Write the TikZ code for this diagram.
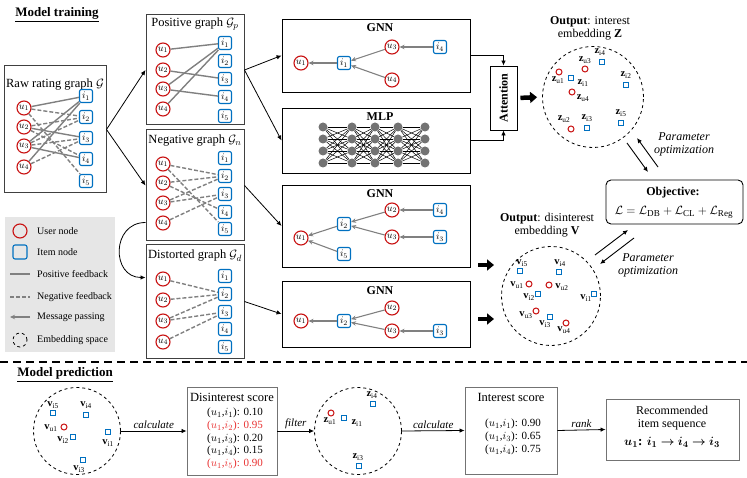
\documentclass[tikz,border=0pt]{standalone}
\usepackage{fontspec}
\setmainfont{Liberation Serif}
\usepackage{amsmath}
\usepackage{bm}
\usetikzlibrary{arrows.meta,positioning,shapes}

\definecolor{ured}{RGB}{200,16,16}
\definecolor{iblue}{RGB}{0,112,192}
\definecolor{egray}{RGB}{128,128,128}
\definecolor{sred}{RGB}{232,48,48}
\definecolor{legbg}{RGB}{230,230,230}

\tikzset{
  user/.style={circle, draw=ured, line width=1.1pt, minimum size=14pt, inner sep=0pt, font=\fontsize{10}{10}\selectfont},
  item/.style={rectangle, rounded corners=2pt, draw=iblue, line width=1.1pt, minimum size=13pt, inner sep=0pt, font=\fontsize{10}{10}\selectfont},
  posedge/.style={draw=egray, line width=1.4pt},
  negedge/.style={draw=egray, line width=1.4pt, dash pattern=on 4pt off 2pt},
  msg/.style={draw=egray, line width=1.1pt, -{Stealth[length=5pt,width=4.5pt]}},
  graphbox/.style={draw=black!75, line width=1pt, inner sep=0pt},
  gnnbox/.style={draw=black, line width=0.9pt, minimum width=188pt, inner sep=0pt},
  gtitle/.style={font=\fontsize{12.5}{12.5}\selectfont, inner sep=0pt},
  btitle/.style={font=\fontsize{12}{12}\selectfont\bfseries, inner sep=0pt},
  neuron/.style={circle, fill=black!55, minimum size=9pt, inner sep=0pt},
  embed/.style={circle, draw=black, dashed, line width=0.8pt, inner sep=0pt},
  zu/.style={circle, draw=ured, line width=1pt, minimum size=6pt, inner sep=0pt},
  zi/.style={rectangle, draw=iblue, line width=1pt, minimum size=5.5pt, inner sep=0pt},
  elab/.style={font=\fontsize{10.5}{10.5}\selectfont, inner sep=0pt},
  legtext/.style={font=\fontsize{10}{10}\selectfont, anchor=west, inner sep=0pt},
  flow/.style={->, line width=0.8pt},
  bigarrow/.style={line width=4.5pt, -{Triangle[length=7pt,width=11pt]}},
  optim/.style={->, line width=0.9pt},
  itlab/.style={font=\fontsize{11}{11}\selectfont\itshape, inner sep=2pt},
  scorebox/.style={draw=black!55, line width=0.9pt, inner sep=0pt},
  score/.style={font=\fontsize{11}{11}\selectfont, anchor=west, inner sep=0pt},
}

\begin{document}
\begin{tikzpicture}[x=1pt,y=-1pt,>={Latex[length=5pt,width=4.5pt]}]
\useasboundingbox (0,0) rectangle (747,478);

% titles
\node[font=\fontsize{13}{13}\selectfont\bfseries, inner sep=0pt] (train) at (57,15) {\underline{Model training}};
\node[font=\fontsize{13}{13}\selectfont\bfseries, inner sep=0pt] (pred) at (65,375) {\underline{Model prediction}};

% raw rating graph
\node[graphbox, minimum width=102pt, minimum height=127pt] (raw) at (55,129.5) {};
\node[gtitle] (rawt) at (55,85) {Raw rating graph $\mathcal{G}$};
\foreach \k/\y in {1/108,2/127,3/146,4/167}
  \node[user] (ru\k) at (24,\y) {$u_{\k}$};
\foreach \k/\y in {1/96,2/117,3/138,4/159,5/181}
  \node[item] (ri\k) at (86,\y) {$i_{\k}$};
\foreach \a/\b in {1/1,2/3,3/1,3/4,4/1}
  \draw[posedge] (ru\a) -- (ri\b);
\foreach \a/\b in {1/2,1/5,2/2,2/4,3/2,3/3,4/3}
  \draw[negedge] (ru\a) -- (ri\b);

% positive graph
\node[graphbox, minimum width=98pt, minimum height=110pt] (posg) at (195,70) {};
\node[gtitle] (posgt) at (195,24) {Positive graph $\mathcal{G}_p$};
\foreach \k/\y in {1/50,2/70,3/89,4/109}
  \node[user] (pu\k) at (163,\y) {$u_{\k}$};
\foreach \k/\y in {1/43,2/61,3/79,4/97,5/116}
  \node[item] (pi\k) at (225,\y) {$i_{\k}$};
\foreach \a/\b in {1/1,2/3,3/1,3/4,4/1}
  \draw[posedge] (pu\a) -- (pi\b);

% negative graph
\node[graphbox, minimum width=98pt, minimum height=111pt] (negg) at (195,185.5) {};
\node[gtitle] (neggt) at (195,141) {Negative graph $\mathcal{G}_n$};
\foreach \k/\y in {1/164,2/183,3/203,4/223}
  \node[user] (nu\k) at (163,\y) {$u_{\k}$};
\foreach \k/\y in {1/158,2/176,3/194,4/212,5/229}
  \node[item] (ni\k) at (225,\y) {$i_{\k}$};
\foreach \a/\b in {1/2,1/5,2/2,2/4,3/2,3/3,4/3}
  \draw[negedge] (nu\a) -- (ni\b);

% distorted graph
\node[graphbox, minimum width=98pt, minimum height=113pt] (dstg) at (195,301.5) {};
\node[gtitle] (dstgt) at (195,256) {Distorted graph $\mathcal{G}_d$};
\foreach \k/\y in {1/279,2/300,3/321,4/342}
  \node[user] (du\k) at (163,\y) {$u_{\k}$};
\foreach \k/\y in {1/276,2/294,3/312,4/329,5/347}
  \node[item] (di\k) at (225,\y) {$i_{\k}$};
\foreach \a/\b in {1/2,2/2,3/2,3/3,4/3}
  \draw[negedge] (du\a) -- (di\b);

\draw[flow] (raw.east) -- (posg.west);
\draw[flow] (raw.east) -- (negg.west);
\draw[flow] ([yshift=19pt]negg.south west) to[out=180,in=180,looseness=1.6] ([yshift=-33pt]dstg.north west);

% legend
\node[fill=legbg, minimum width=110pt, minimum height=135pt, inner sep=0pt] (legend) at (60,284.5) {};
\node[user] (lu) at (20,231) {};
\node[item, minimum size=14pt] (li) at (20,252) {};
\coordinate (lpa) at (10,274); \coordinate (lpb) at (30,274);
\coordinate (lna) at (10,297); \coordinate (lnb) at (30,297);
\coordinate (lma) at (30,317); \coordinate (lmb) at (10,317);
\draw[posedge] (lpa) -- (lpb);
\draw[negedge] (lna) -- (lnb);
\draw[msg] (lma) -- (lmb);
\node[embed, minimum size=14pt] (le) at (20,340) {};
\node[legtext] (lut) at (37,231) {User node};
\node[legtext] (lit) at (37,252) {Item node};
\node[legtext] (lpt) at (37,274) {Positive feedback};
\node[legtext] (lnt) at (37,297) {Negative feedback};
\node[legtext] (lmt) at (37,317) {Message passing};
\node[legtext] (let) at (37,340) {Embedding space};

% GNN on positive graph
\node[gnnbox, minimum height=73pt] (gnnA) at (376,55.5) {};
\node[btitle] (gnnAt) at (380,28) {GNN};
\node[user] (gAu1) at (301,63) {$u_1$};
\node[item] (gAi1) at (344,63) {$i_1$};
\node[user] (gAu3) at (392,47) {$u_3$};
\node[user] (gAu4) at (392,80) {$u_4$};
\node[item] (gAi4) at (440,47) {$i_4$};
\draw[msg] (gAi4) -- (gAu3);
\draw[msg] (gAu3) -- (gAi1);
\draw[msg] (gAu4) -- (gAi1);
\draw[msg] (gAi1) -- (gAu1);

% MLP
\node[gnnbox, minimum height=65pt] (mlp) at (376,140.5) {};
\node[btitle] (mlpt) at (380,117) {MLP};
\foreach \l/\x in {1/323,2/352,3/375,4/398,5/425}
  \foreach \r/\y in {1/127,2/139,3/151,4/163}
    \node[neuron] (n\l\r) at (\x,\y) {};
\foreach \l [evaluate=\l as \m using int(\l+1)] in {1,...,4}
  \foreach \r in {1,...,4}
    \foreach \s in {1,...,4}
      \draw[line width=0.5pt] (n\l\r) -- (n\m\s);

\draw[flow] (posg.east) -- (gnnA.west);
\draw[flow] (posg.east) -- (mlp.west);

% attention
\node[draw=black, line width=0.9pt, minimum width=27pt, minimum height=64pt, inner sep=0pt] (att) at (503.5,98) {};
\node[btitle, rotate=90] (attt) at (att) {Attention};
\draw[flow] (gnnA.east) -| (att.north);
\draw[flow] (mlp.east) -| (att.south);

% GNN on negative graph
\node[gnnbox, minimum height=82pt] (gnnB) at (376,226) {};
\node[btitle] (gnnBt) at (380,194) {GNN};
\node[user] (gBu1) at (301,238) {$u_1$};
\node[item] (gBi2) at (344,224) {$i_2$};
\node[item] (gBi5) at (344,254) {$i_5$};
\node[user] (gBu2) at (392,210) {$u_2$};
\node[user] (gBu3) at (392,237) {$u_3$};
\node[item] (gBi4) at (440,210) {$i_4$};
\node[item] (gBi3) at (440,237) {$i_3$};
\draw[msg] (gBi4) -- (gBu2);
\draw[msg] (gBi3) -- (gBu3);
\draw[msg] (gBu2) -- (gBi2);
\draw[msg] (gBu3) -- (gBi2);
\draw[msg] (gBi2) -- (gBu1);
\draw[msg] (gBi5) -- (gBu1);

% GNN on distorted graph
\node[gnnbox, minimum height=66pt] (gnnC) at (376,314) {};
\node[btitle] (gnnCt) at (380,291) {GNN};
\node[user] (gCu1) at (301,321) {$u_1$};
\node[item] (gCi2) at (344,321) {$i_2$};
\node[user] (gCu2) at (392,308) {$u_2$};
\node[user] (gCu3) at (392,331) {$u_3$};
\node[item] (gCi3) at (440,331) {$i_3$};
\draw[msg] (gCi3) -- (gCu3);
\draw[msg] (gCu2) -- (gCi2);
\draw[msg] (gCu3) -- (gCi2);
\draw[msg] (gCi2) -- (gCu1);

\draw[flow] (negg.east) -- (gnnB.west);
\draw[flow] (dstg.east) -- (gnnC.west);

% interest embedding Z
\node[font=\fontsize{12}{13}\selectfont, align=center, inner sep=0pt] (zout) at (590,28) {\textbf{Output}: interest\\embedding $\mathbf{Z}$};
\node[embed, minimum size=101pt] (zemb) at (593,97) {};
\draw[bigarrow, shorten <=3pt, shorten >=5pt] (att.east) -- (zemb.west);
\foreach \n/\px/\py/\lx/\ly in {u1/559/72/558/80, u2/571/129/564/119, u3/585/69/585/60, u4/572/92/583/98}{
  \node[zu] (z\n) at (\px,\py) {};
  \node[elab] (z\n l) at (\lx,\ly) {$\mathbf{z}_{\mathrm{\n}}$};
}
\foreach \n/\px/\py/\lx/\ly in {i1/571/78/583/83, i2/626/85/626/75, i3/587/128/587/118, i4/602/62/600/52, i5/621/123/621/113}{
  \node[zi] (z\n) at (\px,\py) {};
  \node[elab] (z\n l) at (\lx,\ly) {$\mathbf{z}_{\mathrm{\n}}$};
}

% disinterest embedding V
\node[font=\fontsize{12}{13}\selectfont, align=center, inner sep=0pt] (vout) at (547,225) {\textbf{Output}: disinterest\\embedding $\mathbf{V}$};
\node[embed, minimum size=99pt] (vemb) at (551,296) {};
\coordinate (vinB) at (494,265);
\coordinate (vinC) at (494,319);
\draw[bigarrow, shorten <=8pt] (gnnB.east |- vinB) -- (vinB);
\draw[bigarrow, shorten <=8pt] (gnnC.east |- vinC) -- (vinC);
\foreach \n/\px/\py/\lx/\ly in {u1/529/284/517/285, u2/549/285/562/287, u3/536/311/526/315, u4/566/323/564/330}{
  \node[zu] (v\n) at (\px,\py) {};
  \node[elab] (v\n l) at (\lx,\ly) {$\mathbf{v}_{\mathrm{\n}}$};
}
\foreach \n/\px/\py/\lx/\ly in {i1/594/294/586/298, i2/538/294/529/297, i3/550/317/545/324, i4/559/272/560/263, i5/520/271/522/263}{
  \node[zi] (v\n) at (\px,\py) {};
  \node[elab] (v\n l) at (\lx,\ly) {$\mathbf{v}_{\mathrm{\n}}$};
}

% objective
\node[draw=black, line width=0.9pt, rounded corners=5pt, minimum width=137pt, minimum height=44pt, inner sep=0pt] (obj) at (674.5,202) {};
\node[font=\fontsize{12}{12}\selectfont\bfseries, inner sep=0pt] (objt) at (673,193) {Objective:};
\node[font=\fontsize{13}{13}\selectfont, inner sep=0pt] (objf) at (674,212) {$\mathcal{L}=\mathcal{L}_{\mathrm{DB}}+\mathcal{L}_{\mathrm{CL}}+\mathcal{L}_{\mathrm{Reg}}$};

% parameter optimization
\coordinate (oa1) at (627,143); \coordinate (oa2) at (648,172);
\coordinate (ob1) at (658,167); \coordinate (ob2) at (637,138);
\coordinate (oc1) at (595,255); \coordinate (oc2) at (628,230);
\coordinate (od1) at (634,238); \coordinate (od2) at (600,264);
\draw[optim] (oa1) -- (oa2);
\draw[optim] (ob1) -- (ob2);
\draw[optim] (oc1) -- (oc2);
\draw[optim] (od1) -- (od2);
\node[font=\fontsize{12}{13}\selectfont\itshape, align=center, inner sep=0pt] (optA) at (684,144) {Parameter\\optimization};
\node[font=\fontsize{12}{13}\selectfont\itshape, align=center, inner sep=0pt] (optB) at (648,265) {Parameter\\optimization};

% separator
\coordinate (sepa) at (0,362); \coordinate (sepb) at (747,362);
\draw[line width=1.2pt, dash pattern=on 8pt off 5pt] (sepa) -- (sepb);

% prediction: disinterest embedding
\node[embed, minimum size=87pt] (vpred) at (77,431) {};
\node[zu] (pvu1) at (64,427) {};
\node[elab] (pvu1l) at (51,428) {$\mathbf{v}_{\mathrm{u1}}$};
\foreach \n/\px/\py/\lx/\ly in {i1/108/432/108/443, i2/73/437/63/440, i3/83/460/79/469, i4/86/415/86/405, i5/53/413/53/405}{
  \node[zi] (pv\n) at (\px,\py) {};
  \node[elab] (pv\n l) at (\lx,\ly) {$\mathbf{v}_{\mathrm{\n}}$};
}

% disinterest score
\node[scorebox, minimum width=90pt, minimum height=88pt] (dscore) at (232,431) {};
\node[gtitle] (dscoret) at (232,397) {Disinterest score};
\node[score] (ds1) at (207,413) {($u_1$,$i_1$): 0.10};
\node[score, text=sred] (ds2) at (207,426) {($u_1$,$i_2$): 0.95};
\node[score] (ds3) at (207,439) {($u_1$,$i_3$): 0.20};
\node[score] (ds4) at (207,451) {($u_1$,$i_4$): 0.15};
\node[score, text=sred] (ds5) at (207,464) {($u_1$,$i_5$): 0.90};
\draw[flow] (vpred.east) -- node[itlab, above] {calculate} (dscore.west);

% prediction: filtered interest embedding
\node[embed, minimum size=87pt] (zpred) at (358,431) {};
\node[zu] (pzu1) at (331,413) {};
\node[elab] (pzu1l) at (330,421) {$\mathbf{z}_{\mathrm{u1}}$};
\foreach \n/\px/\py/\lx/\ly in {i1/344/418/357/423, i3/359/466/358/457, i4/373/404/372/395}{
  \node[zi] (pz\n) at (\px,\py) {};
  \node[elab] (pz\n l) at (\lx,\ly) {$\mathbf{z}_{\mathrm{\n}}$};
}
\draw[flow] (dscore.east) -- node[itlab, above] {filter} (zpred.west);

% interest score
\node[scorebox, minimum width=92pt, minimum height=87pt] (iscore) at (511,430.5) {};
\node[gtitle] (iscoret) at (511,397) {Interest score};
\node[score] (is1) at (485,424) {($u_1$,$i_1$): 0.90};
\node[score] (is3) at (485,437) {($u_1$,$i_3$): 0.65};
\node[score] (is4) at (485,450) {($u_1$,$i_4$): 0.75};
\draw[flow] (zpred.east) -- node[itlab, above] {calculate} (iscore.west);

% recommendation
\node[scorebox, minimum width=133pt, minimum height=61pt] (rec) at (672.5,429.5) {};
\node[font=\fontsize{12}{13}\selectfont, align=center, inner sep=0pt] (rect) at (672,418) {Recommended\\item sequence};
\node[font=\fontsize{13}{13}\selectfont, inner sep=0pt] (recs) at (672,442) {$\bm{u_1}$\textbf{:} $\bm{i_1\rightarrow i_4\rightarrow i_3}$};
\draw[flow] (iscore.east) -- node[itlab, above] {rank} (rec.west);

\end{tikzpicture}
\end{document}
